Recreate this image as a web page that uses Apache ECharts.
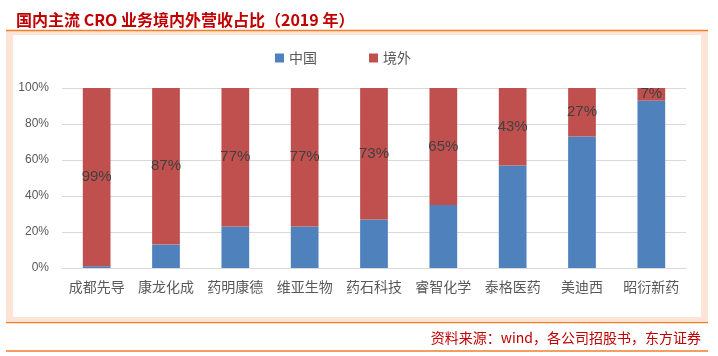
<!DOCTYPE html>
<html>
<head>
<meta charset="utf-8">
<script src="https://cdn.jsdelivr.net/npm/echarts@6/dist/echarts.min.js"></script>
<style>
html,body{margin:0;padding:0;background:#fff;}
#c{width:718px;height:356px;}
</style>
</head>
<body>
<div id="c"></div>
<script>
var categories = ['成都先导','康龙化成','药明康德','维亚生物','药石科技','睿智化学','泰格医药','美迪西','昭衍新药'];
var chinaShare = [1, 13, 23, 23, 27, 35, 57, 73, 93];
var overseasShare = [99, 87, 77, 77, 73, 65, 43, 27, 7];
var yTicks = [0, 20, 40, 60, 80, 100];
var titleText = '国内主流 CRO 业务境内外营收占比（2019 年）';
var sourceText = '资料来源：wind，各公司招股书，东方证券';

var chart = echarts.init(document.getElementById('c'), null, {renderer:'canvas'});
var cjk = '"Noto Sans CJK SC", "Noto Sans", sans-serif';
var option = {
  animation: false,
  backgroundColor: '#ffffff',
  title: {
    text: titleText,
    left: 11, top: 7,
    textStyle: {color:'#c00000', fontSize:16, fontWeight:'bold', fontFamily: cjk}
  },
  legend: {
    data: ['中国','境外'],
    left: 270, top: 46,
    itemWidth: 9, itemHeight: 9, itemGap: 52,
    icon: 'rect',
    textStyle: {color:'#595959', fontSize:14, fontFamily: cjk}
  },
  grid: {left: 62, right: 32, top: 88, bottom: 88},
  xAxis: {
    type: 'category',
    data: categories,
    axisTick: {show:false},
    axisLine: {lineStyle:{color:'#d9d9d9', width:1}},
    axisLabel: {color:'#595959', fontSize:14, margin:12, fontFamily: cjk, interval:0}
  },
  yAxis: {
    type: 'value',
    min: yTicks[0], max: yTicks[yTicks.length-1], interval: 20,
    axisLine: {show:false},
    axisTick: {show:false},
    splitLine: {lineStyle:{color:'#d9d9d9', width:1}},
    axisLabel: {formatter:'{value}%', color:'#595959', fontSize:12, margin:13, fontFamily:'"Liberation Sans", Arial, sans-serif'}
  },
  series: [
    {
      name: '中国', type: 'bar', stack: 'total', data: chinaShare,
      barWidth: '40%',
      itemStyle: {color:'#4f81bd'}
    },
    {
      name: '境外', type: 'bar', stack: 'total', data: overseasShare,
      barWidth: '40%',
      itemStyle: {color:'#c0504d'},
      label: {
        show: true, position: 'inside',
        formatter: '{c}%',
        color: '#404040', fontSize: 15,
        fontFamily: '"Liberation Sans", Arial, sans-serif',
        textBorderWidth: 0
      }
    }
  ],
  graphic: [
    {type:'rect', silent:true, z:-10, shape:{x:6, y:31, width:702, height:290}, style:{fill:'#fce4d6'}},
    {type:'rect', silent:true, z:-9, shape:{x:13, y:35, width:688, height:282}, style:{fill:'#ffffff'}},
    {type:'line', silent:true, shape:{x1:6, y1:30.5, x2:708, y2:30.5}, style:{stroke:'#f07f2b', lineWidth:1.5}},
    {type:'line', silent:true, shape:{x1:6, y1:322.5, x2:708, y2:322.5}, style:{stroke:'#f07f2b', lineWidth:1.5}},
    {type:'line', silent:true, shape:{x1:6, y1:351, x2:708, y2:351}, style:{stroke:'#f07f2b', lineWidth:1.5}},
    {type:'text', silent:true, right: 17, top: 331,
      style:{text: sourceText, fill:'#c00000', fontSize:14, fontFamily: cjk}}
  ]
};
chart.setOption(option);
</script>
</body>
</html>
